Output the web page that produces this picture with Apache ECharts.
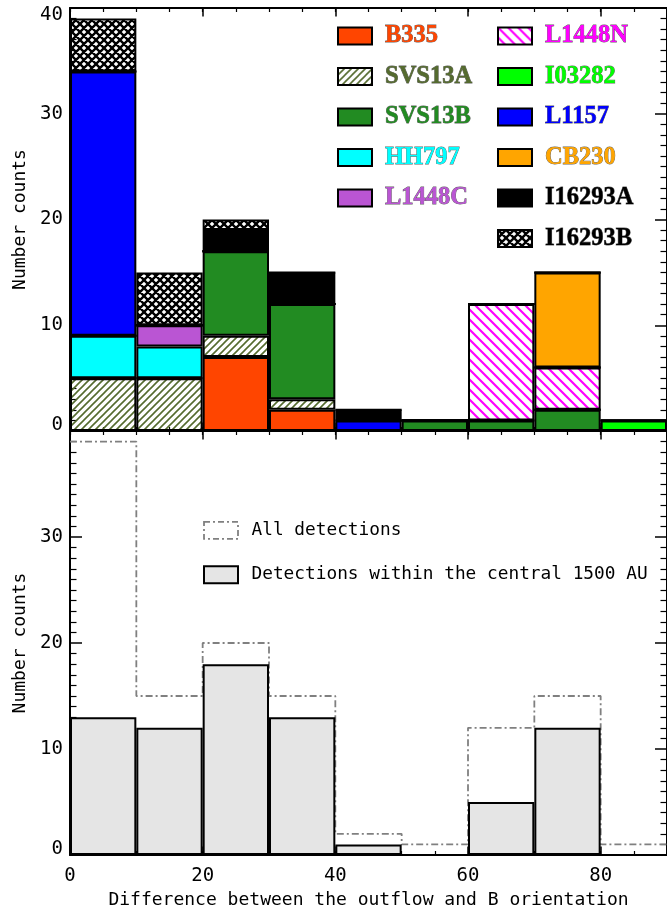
<!DOCTYPE html>
<html><head><meta charset="utf-8">
<script src="https://cdn.jsdelivr.net/npm/echarts@6/dist/echarts.min.js"></script>
<style>html,body{margin:0;padding:0;background:#fff}#c{width:667px;height:913px}</style>
</head><body><div id="c"></div>
<script>
// ---------------- DATA ----------------
const bins = ['0-10','10-20','20-30','30-40','40-50','50-60','60-70','70-80','80-90'];
const binEdges = [0,10,20,30,40,50,60,70,80,90];
const sourceNames = ['B335','SVS13A','SVS13B','HH797','L1448C','L1448N','I03282','L1157','CB230','I16293A','I16293B'];
const B335    = [0,0,7,2,0,0,0,0,0];
const SVS13A  = [5,5,2,1,0,0,0,0,0];
const SVS13B  = [0,0,8,9,0,1,1,2,0];
const HH797   = [4,3,0,0,0,0,0,0,0];
const L1448C  = [0,2,0,0,0,0,0,0,0];
const L1448N  = [0,0,0,0,0,0,11,4,0];
const I03282  = [0,0,0,0,0,0,0,0,1];
const L1157   = [25,0,0,0,1,0,0,0,0];
const CB230   = [0,0,0,0,0,0,0,9,0];
const I16293A = [0,0,2,3,1,0,0,0,0];
const I16293B = [5,5,1,0,0,0,0,0,0];
const allDetections  = [39,15,20,15,2,1,12,15,1];
const central1500AU  = [13,12,18,13,1,0,5,12,0];
const xTickLabels = [0,20,40,60,80];
const yTickLabelsTop = [0,10,20,30,40];
const yTickLabelsBottom = [0,10,20,30];
const legendLeftCol = ['B335','SVS13A','SVS13B','HH797','L1448C'];
const legendRightCol = ['L1448N','I03282','L1157','CB230','I16293A','I16293B'];
const nameAll = 'All detections';
const nameCentral = 'Detections within the central 1500 AU';
const xTitle = 'Difference between the outflow and B orientation';
const yTitle = 'Number counts';

const seriesValues = {B335,SVS13A,SVS13B,HH797,L1448C,L1448N,I03282,L1157,CB230,I16293A,I16293B};

// ---------------- STYLES ----------------
function hatch(color, kind, p, lw) {
  const c = document.createElement('canvas');
  c.width = p; c.height = p;
  const g = c.getContext('2d');
  g.strokeStyle = color; g.lineWidth = lw;
  g.beginPath();
  if (kind === '/' || kind === 'x') {
    for (const k of [0, p, 2*p]) { g.moveTo(-2, k+2); g.lineTo(p+2, k-p-2); }
  }
  if (kind === '\\' || kind === 'x') {
    for (const k of [-p, 0, p]) { g.moveTo(-2, k-2); g.lineTo(p+2, k+p+2); }
  }
  g.stroke();
  return {image: c, repeat: 'repeat'};
}
const fillColors = {
  B335:'#FF4500', SVS13A: hatch('#556B2F','/',7,1.6), SVS13B:'#228B22', HH797:'#00FFFF',
  L1448C:'#BA55D3', L1448N: hatch('#FF00FF','\\',10,2.2), I03282:'#00FF00', L1157:'#0000FF',
  CB230:'#FFA500', I16293A:'#000000', I16293B: hatch('#000000','x',8,2.4)
};
const textColors = {
  B335:'#FF4500', SVS13A:'#556B2F', SVS13B:'#228B22', HH797:'#00FFFF', L1448C:'#BA55D3',
  L1448N:'#FF00FF', I03282:'#00FF00', L1157:'#0000FF', CB230:'#FFA500', I16293A:'#000000', I16293B:'#000000'
};
const AX_FONT = 'DejaVu Sans Mono';
const LEG_FONT = 'Liberation Serif';
const GL = 70, GW = 600;
const grids = [
  {left: GL, top: 8, width: GW, height: 423},
  {left: GL, top: 431, width: GW, height: 424}
];
const lineBlack = {color:'#000', width: 2};

function yLabelRich() {
  const base = {fontFamily: AX_FONT, fontSize: 19, color: '#000'};
  return {
    n: base,
    lo: Object.assign({}, base, {padding:[0,0,12,0]}),
    hi: Object.assign({}, base, {padding:[14,0,0,0]})
  };
}
function xAxes(gi, withLabels) {
  const common = {type:'value', gridIndex: gi, min: 0, max: 90, splitLine:{show:false}};
  const out = [];
  out.push({type:'category', gridIndex: gi, data: bins, show: false, boundaryGap: true});
  out.push(Object.assign({}, common, {
    position:'bottom', interval: 20,
    axisLine:{show:true, onZero:false, lineStyle: lineBlack},
    axisTick:{show:true, inside:true, length:8.5, lineStyle:{color:'#000', width:1.5}},
    axisLabel: withLabels ? {show:true, customValues: xTickLabels, margin: 12,
      fontFamily: AX_FONT, fontSize: 19, color:'#000'} : {show:false},
    name: withLabels ? xTitle : '', nameLocation:'middle', nameGap: 36,
    nameTextStyle:{fontFamily: AX_FONT, fontSize: 18, color:'#000'}
  }));
  out.push(Object.assign({}, common, {
    position:'bottom', interval: 5,
    axisLine:{show:false, onZero:false},
    axisTick:{show:true, inside:true, length:4, lineStyle:{color:'#000', width:1.2}},
    axisLabel:{show:false}
  }));
  out.push(Object.assign({}, common, {
    position:'top', interval: 20,
    axisLine:{show:true, onZero:false, lineStyle: lineBlack},
    axisTick:{show:true, inside:true, length:8.5, lineStyle:{color:'#000', width:1.5}},
    axisLabel:{show:false}
  }));
  out.push(Object.assign({}, common, {
    position:'top', interval: 5,
    axisLine:{show:false, onZero:false},
    axisTick:{show:true, inside:true, length:4, lineStyle:{color:'#000', width:1.2}},
    axisLabel:{show:false}
  }));
  return out;
}
function yAxes(gi, labels) {
  const common = {type:'value', gridIndex: gi, min: 0, max: 40, interval: 10, splitLine:{show:false},
    axisLine:{show:true, onZero:false, lineStyle: lineBlack},
    axisTick:{show:true, inside:true, length:12, lineStyle:{color:'#000', width:1.5}},
    minorTick:{show:true, splitNumber:10, length:6.5, lineStyle:{color:'#000', width:1.2}},
    minorSplitLine:{show:false}};
  return [
    Object.assign({}, common, {
      position:'left',
      axisLabel:{show:true, customValues: labels, margin: 7,
        formatter: v => v === 0 ? '{lo|0}' : (v === 40 ? '{hi|40}' : '{n|' + v + '}'),
        rich: yLabelRich()},
      name: yTitle, nameLocation:'middle', nameGap: 41,
      nameTextStyle:{fontFamily: AX_FONT, fontSize: 18, color:'#000'}
    }),
    Object.assign({}, common, {position:'right', axisLabel:{show:false}})
  ];
}

const series = [];
sourceNames.forEach(nm => {
  series.push({
    name: nm, type:'bar', stack:'top', xAxisIndex: 0, yAxisIndex: 0,
    barCategoryGap: '0%', barGap: '0%',
    data: seriesValues[nm],
    itemStyle: {color: fillColors[nm], borderColor:'#000', borderWidth: 2},
    emphasis: {disabled: true}
  });
});
const stepPts = [];
allDetections.forEach((v, i) => { stepPts.push([binEdges[i], v]); stepPts.push([binEdges[i+1], v]); });
series.push({
  name: nameAll, type:'line', xAxisIndex: 6, yAxisIndex: 2, data: stepPts,
  symbol:'none', z: 1, clip: false,
  lineStyle:{color:'#808080', width: 1.8, type:[7,3,2,3]},
  itemStyle:{color:'#808080'}
});
series.push({
  name: nameCentral, type:'bar', xAxisIndex: 5, yAxisIndex: 2, barCategoryGap:'0%',
  data: central1500AU, z: 2,
  itemStyle:{color:'#E5E5E5', borderColor:'#000', borderWidth: 2},
  emphasis:{disabled:true}
});

const legTextBase = {fontFamily: LEG_FONT, fontWeight:'bold', fontSize: 24.5, lineHeight: 17,
  padding:[0,0,0,8], textBorderColor:'rgba(40,40,40,0.75)', textBorderWidth: 0.8};
function legItems(arr) {
  return arr.map(nm => ({name: nm, icon:'rect',
    itemStyle:{borderColor:'#000', borderWidth: 2},
    textStyle: Object.assign({}, legTextBase, {color: textColors[nm]})}));
}
const legCommon = {orient:'vertical', itemWidth: 34, itemHeight: 17, itemGap: 14.7,
  selectedMode: false, textStyle: legTextBase, padding: 0};

const option = {
  animation: false,
  backgroundColor: '#fff',
  grid: grids,
  xAxis: xAxes(0, false).concat(xAxes(1, true)),
  yAxis: yAxes(0, yTickLabelsTop).concat(yAxes(1, yTickLabelsBottom)),
  legend: [
    Object.assign({}, legCommon, {left: 337, top: 23, data: legItems(legendLeftCol)}),
    Object.assign({}, legCommon, {left: 497, top: 23, data: legItems(legendRightCol)}),
    {orient:'vertical', left: 203, top: 521, itemWidth: 34, itemHeight: 17, itemGap: 25.5,
     selectedMode: false, padding: 0,
     textStyle:{fontFamily: AX_FONT, fontSize: 17.8, color:'#000', lineHeight: 17, padding:[0,0,0,8.5]},
     data: [
       {name: nameAll, icon:'rect', itemStyle:{color:'rgba(0,0,0,0)', borderColor:'#808080', borderWidth: 1.8, borderType:[6,3,2,3]}},
       {name: nameCentral, icon:'rect', itemStyle:{color:'#E5E5E5', borderColor:'#000', borderWidth: 2}}
     ]}
  ],
  series: series
};
const chart = echarts.init(document.getElementById('c'), null, {renderer:'canvas'});
chart.setOption(option);
</script></body></html>
